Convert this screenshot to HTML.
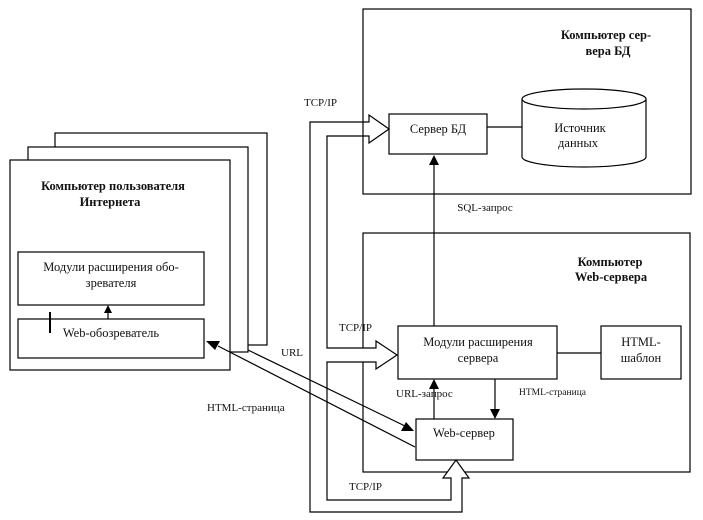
<!DOCTYPE html>
<html><head><meta charset="utf-8"><style>
html,body{margin:0;padding:0;background:#fff;}
svg{display:block;}
text{font-family:"Liberation Serif","DejaVu Serif",serif;fill:#111;}
.b{font-weight:bold;font-size:12.5px;}
.n{font-size:12.5px;}
.s{font-size:11px;}
</style></head><body>
<svg width="703" height="520" viewBox="0 0 703 520" xmlns="http://www.w3.org/2000/svg">
<g fill="#fff" stroke="#000" stroke-width="1.2">
<rect x="55" y="133" width="212" height="212"/>
<rect x="28" y="147" width="220" height="205"/>
<rect x="10" y="160" width="220" height="210"/>
<rect x="18" y="252" width="186" height="53"/>
<rect x="18" y="319" width="186" height="39"/>
<rect x="363" y="9" width="328" height="185"/>
<rect x="389" y="114" width="98" height="40"/>
<rect x="363" y="233" width="327" height="239"/>
<rect x="398" y="326" width="159" height="53"/>
<rect x="601" y="326" width="80" height="53"/>
<rect x="416" y="419" width="97" height="41"/>
<path d="M522,99 L522,157 A62,10 0 0 0 646,157 L646,99"/>
<ellipse cx="584" cy="99" rx="62" ry="10"/>
<!-- pipe -->
<path d="M310,122 L369,122 L369,115 L389,129 L369,143 L369,136 L327,136 L327,348 L376,348 L376,341 L397,355 L376,369 L376,362 L327,362 L327,500 L451,500 L451,478 L443,478 L456,460 L469,478 L462,478 L462,512 L310,512 Z"/>
</g>
<g stroke="#000" stroke-width="1.2" fill="none">
<line x1="487" y1="127" x2="522" y2="127"/>
<line x1="557" y1="353" x2="601" y2="353"/>
<line x1="434" y1="326" x2="434" y2="164"/>
<line x1="434" y1="419" x2="434" y2="388"/>
<line x1="495" y1="379" x2="495" y2="410"/>
<line x1="108" y1="319" x2="108" y2="313"/>
<line x1="218" y1="346" x2="415" y2="447"/>
<line x1="248" y1="350" x2="405" y2="426"/>
<line x1="363" y1="122" x2="363" y2="136"/>
</g>
<line x1="50" y1="312" x2="50" y2="333" stroke="#000" stroke-width="2"/>
<g fill="#000">
<polygon points="434,155 429,165 439,165"/>
<polygon points="434,379 429,389 439,389"/>
<polygon points="495,419 490,409 500,409"/>
<polygon points="108,305 104,313 112,313"/>
<polygon points="206,341 220,341 215,350"/>
<polygon points="414,431 401,431 406,422"/>
</g>
<text class="b" x="113" y="190" text-anchor="middle">Компьютер пользователя</text>
<text class="b" x="110" y="206" text-anchor="middle">Интернета</text>
<text class="n" x="111" y="271" text-anchor="middle">Модули расширения обо-</text>
<text class="n" x="111" y="287" text-anchor="middle">зревателя</text>
<text class="n" x="111" y="337" text-anchor="middle">Web-обозреватель</text>
<text class="b" x="606" y="39" text-anchor="middle">Компьютер сер-</text>
<text class="b" x="608" y="55" text-anchor="middle">вера БД</text>
<text class="n" x="438" y="133" text-anchor="middle">Сервер БД</text>
<text class="n" x="580" y="132" text-anchor="middle">Источник</text>
<text class="n" x="578" y="147" text-anchor="middle">данных</text>
<text class="s" x="485" y="211" text-anchor="middle">SQL-запрос</text>
<text class="b" x="610" y="266" text-anchor="middle">Компьютер</text>
<text class="b" x="611" y="281" text-anchor="middle">Web-сервера</text>
<text class="n" x="478" y="346" text-anchor="middle">Модули расширения</text>
<text class="n" x="478" y="362" text-anchor="middle">сервера</text>
<text class="n" x="641" y="346" text-anchor="middle">HTML-</text>
<text class="n" x="641" y="362" text-anchor="middle">шаблон</text>
<text class="n" x="464" y="437" text-anchor="middle">Web-сервер</text>
<text class="s" x="396" y="397">URL-запрос</text>
<text class="s" x="519" y="395" style="font-size:9.5px">HTML-страница</text>
<text class="s" x="304" y="106">TCP/IP</text>
<text class="s" x="339" y="331">TCP/IP</text>
<text class="s" x="349" y="490">TCP/IP</text>
<text class="s" x="281" y="356">URL</text>
<text class="s" x="207" y="411">HTML-страница</text>
</svg>
</body></html>
